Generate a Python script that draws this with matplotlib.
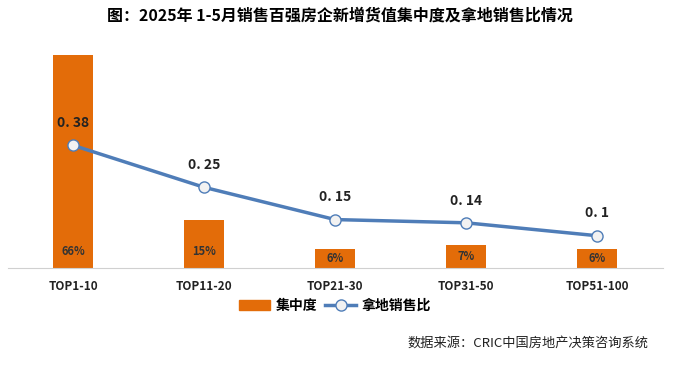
import matplotlib
matplotlib.use("Agg")
import matplotlib.pyplot as plt
from matplotlib.lines import Line2D
from matplotlib.patches import Patch

plt.rcParams['font.family'] = ['Noto Sans CJK SC', 'DejaVu Sans']

categories = ["TOP1-10", "TOP11-20", "TOP21-30", "TOP31-50", "TOP51-100"]
concentration = [0.66, 0.15, 0.06, 0.07, 0.06]
concentration_labels = ["66%", "15%", "6%", "7%", "6%"]
land_sales_ratio = [0.38, 0.25, 0.15, 0.14, 0.10]
ratio_labels = ["0. 38", "0. 25", "0. 15", "0. 14", "0. 1"]

bar_color = "#E36C09"
line_color = "#4F7DB8"

fig = plt.figure(figsize=(6.79, 3.67), dpi=100)
ax = fig.add_axes([7.5/679, 99/367, 655/679, 226/367])
x = list(range(len(categories)))

ax.bar(x, concentration, width=0.305, color=bar_color, zorder=2)
ax.plot(x, land_sales_ratio, color=line_color, lw=2.5, marker='o', ms=8,
        mfc="#F2F2F2", mec=line_color, mew=1.0, zorder=3)

for xi, h, lab in zip(x, concentration, concentration_labels):
    ax.text(xi, min(0.05, h / 2), lab, ha='center', va='center', fontsize=8,
            fontweight='bold', color="#333333", zorder=4)
for xi, v, lab in zip(x, land_sales_ratio, ratio_labels):
    ax.annotate(lab, (xi, v), xytext=(0, 16), textcoords='offset points',
                ha='center', va='center', fontsize=10, fontweight='bold', color="#222222")

ax.set_xlim(-0.5, len(categories) - 0.5)
ax.set_ylim(0, 0.7)
ax.set_yticks([])
ax.set_xticks(x)
ax.set_xticklabels(categories, fontsize=8.5, fontweight='bold', color="#222222")
ax.tick_params(axis='x', length=0, pad=9)
for s in ['top', 'right', 'left']:
    ax.spines[s].set_visible(False)
ax.spines['bottom'].set_color("#D0D0D0")

handles = [Patch(color=bar_color),
           Line2D([0], [0], color=line_color, lw=2.5, marker='o', ms=8,
                  mfc="#F2F2F2", mec=line_color)]
fig.legend(handles, ["集中度", "拿地销售比"], loc='center', bbox_to_anchor=(335/679, 1 - 306/367),
           ncol=2, frameon=False, prop={'size': 10, 'weight': 'bold'},
           handlelength=2.2, columnspacing=0.6, handletextpad=0.4)

fig.text(340/679, 1 - 16/367, "图：2025年 1-5月销售百强房企新增货值集中度及拿地销售比情况",
         ha='center', va='center', fontsize=11.5, fontweight='bold')
fig.text(648/679, 1 - 343/367, "数据来源：CRIC中国房地产决策咨询系统",
         ha='right', va='center', fontsize=9.5, color="#222222")

fig.savefig("out.png", dpi=100)
